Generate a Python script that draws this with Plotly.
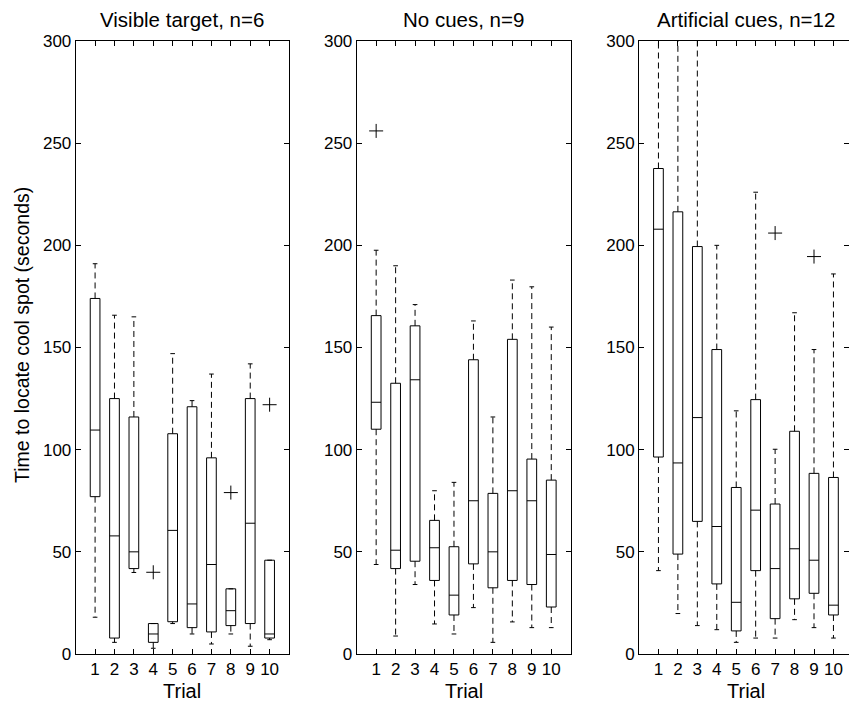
import plotly.graph_objects as go

trials = list(range(1, 11))
tick_vals_y = [0, 50, 100, 150, 200, 250, 300]
panel_titles = ["Visible target, n=6", "No cues, n=9", "Artificial cues, n=12"]
x_title = "Trial"
y_title = "Time to locate cool spot (seconds)"

# Panel 1: Visible target
vis_low = [18, 5.7, 39.9, 2.8, 14.9, 9.8, 4.9, 9.8, 3.8, 7]
vis_q1 = [77, 7.8, 41.8, 5.7, 15.8, 12.9, 10.8, 13.9, 14.9, 7.8]
vis_med = [109.6, 57.8, 50, 9.8, 60.5, 24.5, 43.8, 21.2, 64, 9.8]
vis_q3 = [174, 125, 116, 14.9, 107.8, 121, 96, 31.9, 125, 45.9]
vis_high = [191, 165.8, 165, 14.9, 147, 124, 137, 31.9, 142, 45.9]
vis_out_x = [4, 8, 10]
vis_out_y = [40, 79, 122]

# Panel 2: No cues
noc_low = [43.8, 8.8, 34, 14.7, 9.8, 22.7, 5.7, 15.7, 12.9, 12.9]
noc_q1 = [110, 41.8, 45.4, 36, 19.1, 44.1, 32.4, 36, 34, 23]
noc_med = [123.2, 50.8, 134.2, 52, 28.8, 75, 50, 79.9, 75, 48.7]
noc_q3 = [165.6, 132.5, 160.6, 65.4, 52.5, 144, 78.6, 154, 95.4, 85.1]
noc_high = [197.6, 190, 171, 79.9, 84, 163, 116, 183, 179.7, 160]
noc_out_x = [1]
noc_out_y = [256]

# Panel 3: Artificial cues
art_low = [40.8, 19.8, 13.9, 11.9, 5.7, 7.8, 7.8, 16.8, 12.9, 7.8]
art_q1 = [96.4, 48.9, 64.9, 34.3, 11.3, 40.8, 17.3, 27, 29.7, 19.1]
art_med = [207.9, 93.5, 115.7, 62.4, 25.3, 70.4, 41.8, 51.5, 45.9, 23.9]
art_q3 = [237.6, 216.4, 199.4, 149, 81.5, 124.5, 73.4, 109, 88.4, 86.4]
art_high = [330, 315, 305, 200, 119, 226, 100.2, 167, 149, 186]
art_out_x = [7, 9]
art_out_y = [206, 194.5]

panels = [
    (vis_low, vis_q1, vis_med, vis_q3, vis_high, vis_out_x, vis_out_y),
    (noc_low, noc_q1, noc_med, noc_q3, noc_high, noc_out_x, noc_out_y),
    (art_low, art_q1, art_med, art_q3, art_high, art_out_x, art_out_y),
]

W, H = 849, 706
MT, MB = 41, 52
FONT = "Liberation Sans, Arial, Helvetica, sans-serif"
CAP = 0.12

x_domains = [[75.7 / W, 289.0 / W], [356.7 / W, 570.7 / W], [639.0 / W, 1.0]]
x_ranges = [[0, 11], [0, 11], [0, 10.8]]
title_centers = [182.3 / W, 463.7 / W, 746.0 / W]

fig = go.Figure()

for i, (low, q1, med, q3, high, ox, oy) in enumerate(panels):
    xa = "x" if i == 0 else f"x{i+1}"
    ya = "y" if i == 0 else f"y{i+1}"
    fig.add_trace(go.Box(
        x=trials, q1=q1, median=med, q3=q3, lowerfence=q1, upperfence=q3,
        width=0.5, fillcolor="white", line=dict(color="black", width=1),
        whiskerwidth=0, boxpoints=False, showlegend=False, hoverinfo="skip",
        xaxis=xa, yaxis=ya,
    ))
    wx, wy, cx, cy = [], [], [], []
    for t, lo, a, b, hi in zip(trials, low, q1, q3, high):
        wx += [t, t, None, t, t, None]
        wy += [b, hi, None, a, lo, None]
        cx += [t - CAP, t + CAP, None, t - CAP, t + CAP, None]
        cy += [hi, hi, None, lo, lo, None]
    fig.add_trace(go.Scatter(
        x=wx, y=wy, mode="lines", line=dict(color="black", width=1, dash="6px,4px"),
        showlegend=False, hoverinfo="skip", xaxis=xa, yaxis=ya,
    ))
    fig.add_trace(go.Scatter(
        x=cx, y=cy, mode="lines", line=dict(color="black", width=1),
        showlegend=False, hoverinfo="skip", xaxis=xa, yaxis=ya,
    ))
    fig.add_trace(go.Scatter(
        x=ox, y=oy, mode="markers",
        marker=dict(symbol="cross-thin", size=10, line=dict(color="black", width=1)),
        showlegend=False, hoverinfo="skip", xaxis=xa, yaxis=ya,
    ))

# dummy trace for right-side tick axis of panel 3
fig.add_trace(go.Scatter(x=[None], y=[None], xaxis="x3", yaxis="y4", showlegend=False))

axis_common = dict(ticks="inside", ticklen=5, tickwidth=1, tickcolor="black",
                   showline=True, linecolor="black", linewidth=1, showgrid=False,
                   zeroline=False, automargin=False,
                   tickfont=dict(family=FONT, size=17, color="black"))

layout = dict(
    width=W, height=H, margin=dict(l=0, r=0, t=MT, b=MB),
    paper_bgcolor="white", plot_bgcolor="white", showlegend=False,
    font=dict(family=FONT, color="black"),
)
for i in range(3):
    xk = "xaxis" if i == 0 else f"xaxis{i+1}"
    yk = "yaxis" if i == 0 else f"yaxis{i+1}"
    ya = "y" if i == 0 else f"y{i+1}"
    xa = "x" if i == 0 else f"x{i+1}"
    layout[xk] = dict(axis_common, domain=x_domains[i], range=x_ranges[i], anchor=ya,
                      tickmode="array", tickvals=trials, ticktext=[str(t) for t in trials],
                      mirror="ticks")
    layout[yk] = dict(axis_common, domain=[0, 1], range=[0, 300], anchor=xa,
                      tickmode="array", tickvals=tick_vals_y,
                      mirror=("ticks" if i < 2 else False))
layout["yaxis4"] = dict(overlaying="y3", side="right", anchor="free", position=1.0,
                        range=[0, 300], tickmode="array", tickvals=tick_vals_y,
                        ticks="inside", ticklen=5, tickwidth=1, tickcolor="black",
                        showline=False, showgrid=False, zeroline=False,
                        showticklabels=False, automargin=False)

annotations = []
for i in range(3):
    annotations.append(dict(text=panel_titles[i], x=title_centers[i], y=1, xref="paper", yref="paper",
                            xanchor="center", yanchor="middle", yshift=22, showarrow=False,
                            font=dict(family=FONT, size=20.5, color="black")))
    annotations.append(dict(text=x_title, x=title_centers[i], y=0, xref="paper", yref="paper",
                            xanchor="center", yanchor="middle", yshift=-37, showarrow=False,
                            font=dict(family=FONT, size=20, color="black")))
annotations.append(dict(text=y_title, x=22 / W, y=(654 - 335) / 613, xref="paper", yref="paper",
                        xanchor="center", yanchor="middle", textangle=-90, showarrow=False,
                        font=dict(family=FONT, size=19.5, color="black")))
layout["annotations"] = annotations

fig.update_layout(**layout)
fig.write_html("out.html")
